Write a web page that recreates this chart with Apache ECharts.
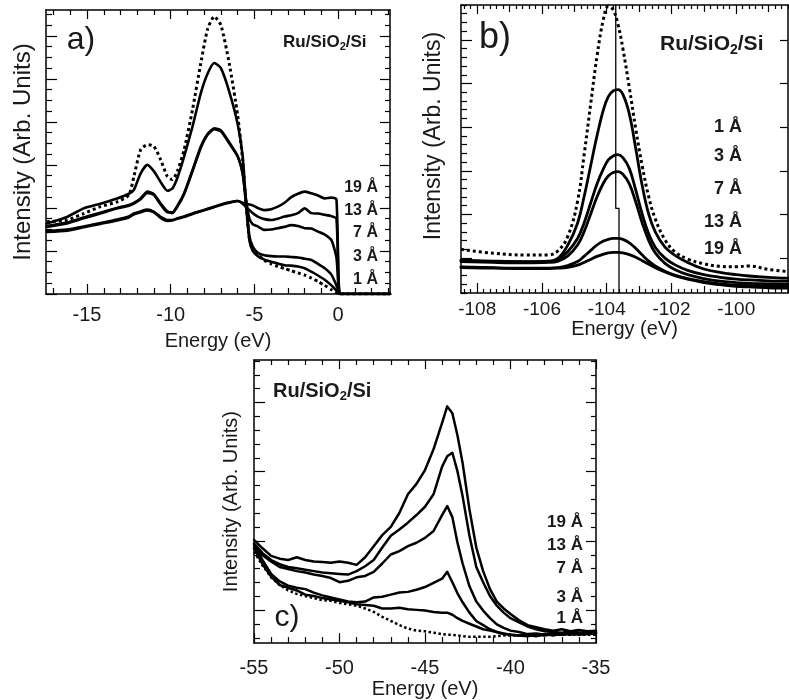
<!DOCTYPE html>
<html><head><meta charset="utf-8">
<script src="https://cdn.jsdelivr.net/npm/echarts@6/dist/echarts.min.js"></script>
<style>html,body{margin:0;padding:0;background:#fff}#c{width:789px;height:700px}</style>
</head><body><div id="c"></div>
<script>
// ---------------- DATA ----------------
// Panel a) valence band
const aE   = [-17.4,-16.2,-15.2,-14.2,-13.2,-12.5,-12.2,-11.8,-11.4,-11.0,-10.6,-10.2,-9.9,-9.6,-9.2,-8.7,-8.2,-7.8,-7.4,-7.0,-6.5,-6.0,-5.7,-5.5,-5.3,-5.1,-4.8,-4.4,-4.0,-3.6,-3.2,-2.8,-2.4,-2.0,-1.6,-1.2,-0.8,-0.4,-0.1,0.1,0.5,3.1];
const aSub = [1.68,1.72,1.87,2.03,2.14,2.3,2.73,3.35,3.47,3.43,3.12,2.73,2.66,2.85,3.35,4.28,5.37,6.15,6.45,6.25,5.35,4.15,3.1,2.1,1.3,1.05,0.92,0.78,0.7,0.64,0.59,0.54,0.49,0.44,0.37,0.29,0.2,0.1,0.03,0,0,0];
const a1   = [1.64,1.79,1.99,2.1,2.22,2.33,2.42,2.8,3.0,2.85,2.6,2.4,2.45,2.7,3.19,3.89,4.67,5.12,5.37,5.25,4.7,3.95,3.2,2.1,1.25,1.0,0.88,0.8,0.75,0.71,0.67,0.66,0.64,0.6,0.52,0.43,0.33,0.2,0.08,0,0,0];
const a3   = [1.56,1.64,1.76,1.87,1.99,2.05,2.1,2.2,2.35,2.3,2.08,1.9,1.9,2.05,2.34,2.88,3.43,3.72,3.85,3.8,3.52,3.2,2.8,2.1,1.35,1.1,0.96,0.9,0.88,0.87,0.87,0.86,0.85,0.82,0.79,0.7,0.6,0.45,0.2,0,0,0];
const a7   = [1.58,1.66,1.78,1.89,2.0,2.07,2.12,2.22,2.38,2.32,2.1,1.92,1.88,2.03,2.32,2.85,3.4,3.7,3.83,3.78,3.5,3.2,2.8,2.2,1.75,1.62,1.57,1.49,1.5,1.53,1.56,1.6,1.58,1.53,1.52,1.45,1.38,1.25,0.85,0,0,0];
const a13  = [1.47,1.5,1.57,1.65,1.73,1.8,1.87,1.92,1.96,1.91,1.79,1.72,1.72,1.76,1.8,1.87,1.93,1.98,2.03,2.08,2.13,2.16,2.1,2.02,1.95,1.88,1.8,1.74,1.72,1.75,1.8,1.83,1.88,1.99,1.88,1.87,1.84,1.81,1.75,0,0,0];
const a19  = [1.44,1.47,1.55,1.63,1.71,1.78,1.85,1.9,1.94,1.9,1.77,1.7,1.71,1.75,1.79,1.86,1.92,1.97,2.02,2.07,2.12,2.16,2.12,2.09,2.08,2.06,2.0,1.95,1.97,2.03,2.12,2.25,2.33,2.38,2.34,2.29,2.22,2.24,2.2,0,0,0];
const aXTicks = [-15,-10,-5,0];

// Panel b) Si 2p region
const bE   = [-108.5,-107.5,-106.5,-105.8,-105.5,-105.2,-104.9,-104.7,-104.5,-104.3,-104.1,-103.95,-103.8,-103.65,-103.5,-103.3,-103.1,-102.9,-102.7,-102.5,-102.2,-101.9,-101.5,-101.0,-100.5,-100.0,-99.6,-99.0,-98.4];
const bSub = [1.0,0.91,0.87,0.87,0.97,1.3,2.1,3.15,4.3,5.42,6.28,6.57,6.49,6.15,5.6,4.7,3.75,2.9,2.2,1.7,1.22,0.95,0.78,0.67,0.61,0.6,0.62,0.54,0.49];
const b1   = [0.75,0.73,0.72,0.73,0.8,1.1,1.6,2.2,2.9,3.6,4.2,4.5,4.63,4.66,4.55,4.1,3.3,2.45,1.8,1.4,1.05,0.87,0.7,0.55,0.47,0.42,0.39,0.36,0.34];
const b3   = [0.74,0.72,0.71,0.72,0.77,0.95,1.25,1.6,2.05,2.5,2.85,3.05,3.14,3.17,3.1,2.85,2.35,1.8,1.35,1.05,0.8,0.65,0.52,0.42,0.36,0.32,0.3,0.28,0.27];
const b7   = [0.72,0.7,0.69,0.7,0.73,0.85,1.1,1.4,1.8,2.2,2.52,2.68,2.76,2.78,2.72,2.5,2.08,1.6,1.2,0.92,0.68,0.54,0.42,0.33,0.27,0.24,0.22,0.21,0.2];
const b13  = [0.6,0.58,0.57,0.57,0.58,0.63,0.72,0.84,0.97,1.1,1.19,1.23,1.25,1.25,1.23,1.15,1.02,0.87,0.73,0.62,0.5,0.41,0.33,0.26,0.21,0.18,0.17,0.16,0.15];
const b19  = [0.58,0.57,0.56,0.56,0.57,0.59,0.64,0.7,0.77,0.84,0.89,0.92,0.93,0.93,0.92,0.88,0.82,0.74,0.66,0.58,0.48,0.4,0.32,0.24,0.19,0.15,0.14,0.12,0.11];
const bMarkE = [-103.72,-103.72,-103.62,-103.62];
const bMarkY = [6.6,1.94,1.94,0];
const bXTicks = [-108,-106,-104,-102,-100];

// Panel c) Ru 4p / Si region
const cE   = [-55,-54.5,-54,-53.5,-53,-52.5,-52,-51.5,-51,-50.5,-50,-49.5,-49,-48.5,-48,-47.5,-47,-46.5,-46,-45.5,-45,-44.5,-44,-43.7,-43.4,-43.1,-42.8,-42.4,-42,-41.6,-41.2,-40.8,-40.4,-40,-39.5,-39,-38.5,-38,-37.5,-37,-36.5,-36,-35.5,-35];
const c19  = [1.49,1.37,1.26,1.22,1.2,1.24,1.2,1.18,1.17,1.16,1.18,1.16,1.13,1.24,1.4,1.56,1.68,1.88,2.15,2.3,2.5,2.8,3.18,3.42,3.32,3.0,2.6,1.93,1.38,1.04,0.78,0.6,0.5,0.42,0.33,0.26,0.23,0.2,0.18,0.2,0.17,0.19,0.17,0.18];
const c13  = [1.44,1.3,1.2,1.14,1.1,1.08,1.06,1.04,1.02,1.01,1.0,0.99,1.04,1.11,1.2,1.38,1.55,1.64,1.74,1.85,1.97,2.15,2.55,2.7,2.75,2.48,2.12,1.55,1.1,0.88,0.68,0.54,0.44,0.36,0.3,0.24,0.2,0.17,0.16,0.15,0.17,0.15,0.16,0.16];
const c7   = [1.37,1.27,1.18,1.1,1.07,1.04,1.02,0.99,0.97,0.94,0.88,0.9,0.95,0.97,1.03,1.15,1.28,1.33,1.4,1.45,1.52,1.62,1.85,1.98,1.82,1.45,1.15,0.82,0.6,0.47,0.36,0.27,0.22,0.18,0.16,0.13,0.14,0.12,0.15,0.13,0.16,0.14,0.15,0.16];
const c3   = [1.42,1.2,1.0,0.89,0.83,0.8,0.78,0.73,0.69,0.66,0.63,0.6,0.59,0.6,0.66,0.67,0.7,0.73,0.74,0.77,0.81,0.87,0.93,1.03,0.88,0.72,0.59,0.44,0.32,0.26,0.2,0.16,0.13,0.12,0.11,0.12,0.1,0.13,0.11,0.14,0.12,0.15,0.13,0.15];
const c1   = [1.37,1.14,0.96,0.84,0.8,0.76,0.7,0.68,0.65,0.63,0.61,0.59,0.56,0.55,0.54,0.5,0.5,0.51,0.49,0.48,0.47,0.45,0.44,0.44,0.41,0.36,0.32,0.28,0.24,0.2,0.18,0.16,0.14,0.12,0.11,0.1,0.12,0.11,0.13,0.12,0.14,0.12,0.13,0.14];
const cSub = [1.32,1.12,0.95,0.84,0.76,0.71,0.68,0.65,0.62,0.61,0.58,0.56,0.54,0.5,0.45,0.38,0.32,0.26,0.21,0.18,0.17,0.15,0.13,0.12,0.12,0.11,0.1,0.09,0.09,0.09,0.09,0.1,0.11,0.11,0.11,0.12,0.11,0.12,0.12,0.12,0.12,0.12,0.12,0.12];
const cXTicks = [-55,-50,-45,-40,-35];

const sampleTitle = 'Ru/SiO2/Si';
const aThick = ['19 Å','13 Å','7 Å','3 Å','1 Å'];
const bThick = ['1 Å','3 Å','7 Å','13 Å','19 Å'];
const cThick = ['19 Å','13 Å','7 Å','3 Å','1 Å'];
const xName = 'Energy (eV)';
const yName = 'Intensity (Arb. Units)';

// ---------------- HELPERS ----------------
const FONT = "'Liberation Sans', Arial, Helvetica, sans-serif";
const TXT = '#1a1a1a';
function steps(from, to, step, skip) {
  const out = [];
  for (let v = from; v <= to + 1e-9; v += step) {
    const r = Math.round(v * 1000) / 1000;
    if (!skip || !skip.some(s => Math.abs(s - r) < 1e-6)) out.push(r);
  }
  return out;
}
const xAxes = [], yAxes = [];
function side(list, gridIndex, position, min, max, layers, extra) {
  const first = list.length;
  layers.forEach((l, k) => {
    const ax = {
      type: 'value', gridIndex, position, min, max, offset: 0,
      axisLine: {show: k === 0, onZero: false, lineStyle: {color: '#000', width: 1.5}},
      axisTick: {show: true, inside: true, customValues: l.values, length: l.length, lineStyle: {color: '#000', width: 1.2}},
      axisLabel: {show: false},
      splitLine: {show: false}
    };
    if (k === 0 && extra) Object.assign(ax, extra);
    list.push(ax);
  });
  return first;
}
const pairs = (xs, ys) => xs.map((x, i) => [x, ys[i]]);

// ---------------- GRIDS / AXES ----------------
const grids = [
  {left: 46, top: 10, width: 344, height: 284},
  {left: 461, top: 5, width: 327, height: 288},
  {left: 254, top: 360, width: 342, height: 286}
];

// a)
const aXmin = -17.45, aXmax = 3.1, aYmin = 0, aYmax = 6.6;
const aXminor = steps(-17, 3, 1, aXTicks);
const aYmaj = steps(0, 6, 1), aYmin4 = steps(0.25, 6.5, 0.25, aYmaj);
const ax0 = side(xAxes, 0, 'bottom', aXmin, aXmax, [{values: aXTicks, length: 10}, {values: aXminor, length: 6}], {
  axisLabel: {show: true, customValues: aXTicks, fontSize: 20, margin: 11, color: TXT, fontFamily: FONT},
  name: xName, nameLocation: 'middle', nameGap: 37, nameTextStyle: {fontSize: 20, color: TXT, fontFamily: FONT}
});
side(xAxes, 0, 'top', aXmin, aXmax, [{values: aXTicks, length: 9}, {values: aXminor, length: 5}]);
const ay0 = side(yAxes, 0, 'left', aYmin, aYmax, [{values: aYmaj, length: 11}, {values: aYmin4, length: 6}], {
  name: yName, nameLocation: 'middle', nameGap: 11, nameTextStyle: {fontSize: 24, color: TXT, fontFamily: FONT}
});
side(yAxes, 0, 'right', aYmin, aYmax, [{values: aYmaj, length: 10}, {values: aYmin4, length: 5}]);

// b)
const bXmin = -108.5, bXmax = -98.4, bYmin = 0, bYmax = 6.6;
const bXodd = steps(-107, -99, 2);
const bXminor = steps(-108.4, -98.4, 0.2, steps(-108, -99, 1));
const bYmaj = steps(0.8, 5.8, 1), bYminor = steps(0, 6.6, 0.2, bYmaj);
const bx0 = side(xAxes, 1, 'bottom', bXmin, bXmax, [{values: bXTicks, length: 10}, {values: bXodd, length: 7}, {values: bXminor, length: 4}], {
  axisLabel: {show: true, customValues: bXTicks, fontSize: 19, margin: 7, color: TXT, fontFamily: FONT},
  name: xName, nameLocation: 'middle', nameGap: 19, nameTextStyle: {fontSize: 20, color: TXT, fontFamily: FONT}
});
side(xAxes, 1, 'top', bXmin, bXmax, [{values: bXTicks, length: 9}, {values: bXodd, length: 7}, {values: bXminor, length: 4}]);
const by0 = side(yAxes, 1, 'left', bYmin, bYmax, [{values: bYmaj, length: 11}, {values: bYminor, length: 6}], {
  name: yName, nameLocation: 'middle', nameGap: 16, nameTextStyle: {fontSize: 23, color: TXT, fontFamily: FONT, padding: [0, 0, 0, 26]}
});
side(yAxes, 1, 'right', bYmin, bYmax, [{values: bYmaj, length: 8}]);

// c)
const cXmin = -55, cXmax = -35, cYmin = 0, cYmax = 4.09;
const cXminor = steps(-54, -36, 1, cXTicks);
const cYmaj = steps(0.476, 3.476, 1), cYminor = steps(0.076, 4.076, 0.2, cYmaj);
const cx0 = side(xAxes, 2, 'bottom', cXmin, cXmax, [{values: cXTicks, length: 10}, {values: cXminor, length: 6}], {
  axisLabel: {show: true, customValues: cXTicks, fontSize: 20, margin: 15, color: TXT, fontFamily: FONT},
  name: xName, nameLocation: 'middle', nameGap: 34, nameTextStyle: {fontSize: 20, color: TXT, fontFamily: FONT}
});
side(xAxes, 2, 'top', cXmin, cXmax, [{values: cXTicks, length: 9}, {values: cXminor, length: 5}]);
const cy0 = side(yAxes, 2, 'left', cYmin, cYmax, [{values: cYmaj, length: 11}, {values: cYminor, length: 6}], {
  name: yName, nameLocation: 'middle', nameGap: 13, nameTextStyle: {fontSize: 20, color: TXT, fontFamily: FONT}
});
side(yAxes, 2, 'right', cYmin, cYmax, [{values: cYmaj, length: 10}, {values: cYminor, length: 5}]);

// ---------------- SERIES ----------------
function line(name, xi, yi, xs, ys, width, dotted, smooth) {
  return {
    type: 'line', name, xAxisIndex: xi, yAxisIndex: yi, data: pairs(xs, ys),
    showSymbol: false, symbol: 'none', smooth: smooth || false, animation: false, silent: true,
    lineStyle: {color: '#000', width, type: dotted ? 'dotted' : 'solid', cap: dotted ? 'butt' : 'round', join: 'round'},
    z: dotted ? 1 : 2
  };
}
const series = [
  line('a 0', ax0, ay0, aE, aSub, 3, true, 0.2),
  line('a 1 Å', ax0, ay0, aE, a1, 2.6, false, 0.2),
  line('a 3 Å', ax0, ay0, aE, a3, 2.6, false, 0.2),
  line('a 7 Å', ax0, ay0, aE, a7, 2.6, false, 0.2),
  line('a 13 Å', ax0, ay0, aE, a13, 2.6, false, 0.2),
  line('a 19 Å', ax0, ay0, aE, a19, 2.6, false, 0.2),
  line('b 0', bx0, by0, bE, bSub, 3, true, 0.4),
  line('b 1 Å', bx0, by0, bE, b1, 2.8, false, 0.4),
  line('b 3 Å', bx0, by0, bE, b3, 2.8, false, 0.4),
  line('b 7 Å', bx0, by0, bE, b7, 2.8, false, 0.4),
  line('b 13 Å', bx0, by0, bE, b13, 2.8, false, 0.4),
  line('b 19 Å', bx0, by0, bE, b19, 2.8, false, 0.4),
  line('b mark', bx0, by0, bMarkE, bMarkY, 1.3, false, false),
  line('c 0', cx0, cy0, cE, cSub, 2.5, true, false),
  line('c 1 Å', cx0, cy0, cE, c1, 2.5, false, false),
  line('c 3 Å', cx0, cy0, cE, c3, 2.5, false, false),
  line('c 7 Å', cx0, cy0, cE, c7, 2.5, false, false),
  line('c 13 Å', cx0, cy0, cE, c13, 2.5, false, false),
  line('c 19 Å', cx0, cy0, cE, c19, 2.5, false, false)
];

// ---------------- ANNOTATIONS ----------------
function txt(x, y, text, size, weight, align) {
  return {type: 'text', x, y, silent: true, z: 100,
    style: {text, fill: TXT, font: (weight || 'normal') + ' ' + size + 'px ' + FONT,
            align: align || 'center', verticalAlign: 'middle', textAlign: align || 'center', textVerticalAlign: 'middle'}};
}
function title(x, y, size) {
  const parts = sampleTitle.split('2');
  return {type: 'text', x, y, silent: true, z: 100,
    style: {text: '{b|' + parts[0] + '}{s|2}{b|' + parts[1] + '}', align: 'left', verticalAlign: 'middle',
      rich: {
        b: {fontSize: size, fontWeight: 'bold', fontFamily: FONT, fill: TXT, color: TXT},
        s: {fontSize: Math.round(size * 0.65), fontWeight: 'bold', fontFamily: FONT, fill: TXT, color: TXT, padding: [Math.round(size * 0.55), 0, 0, 0]}
      }}};
}
const graphic = [
  txt(81, 40, 'a)', 32), txt(495, 38, 'b)', 36), txt(287, 618, 'c)', 30),
  title(283, 42, 17), title(660, 44, 21), title(273, 391, 20)
];
[188, 211, 233, 257, 280].forEach((y, i) => graphic.push(txt(378, y, aThick[i], 16, 'bold', 'right')));
[127, 156, 189, 222, 249].forEach((y, i) => graphic.push(txt(742, y, bThick[i], 18, 'bold', 'right')));
[522, 545, 568, 597, 618].forEach((y, i) => graphic.push(txt(583, y, cThick[i], 17, 'bold', 'right')));

const chart = echarts.init(document.getElementById('c'), null, {renderer: 'canvas'});
chart.setOption({
  animation: false,
  backgroundColor: '#fff',
  textStyle: {fontFamily: FONT},
  grid: grids,
  xAxis: xAxes,
  yAxis: yAxes,
  series,
  graphic
});
</script></body></html>
